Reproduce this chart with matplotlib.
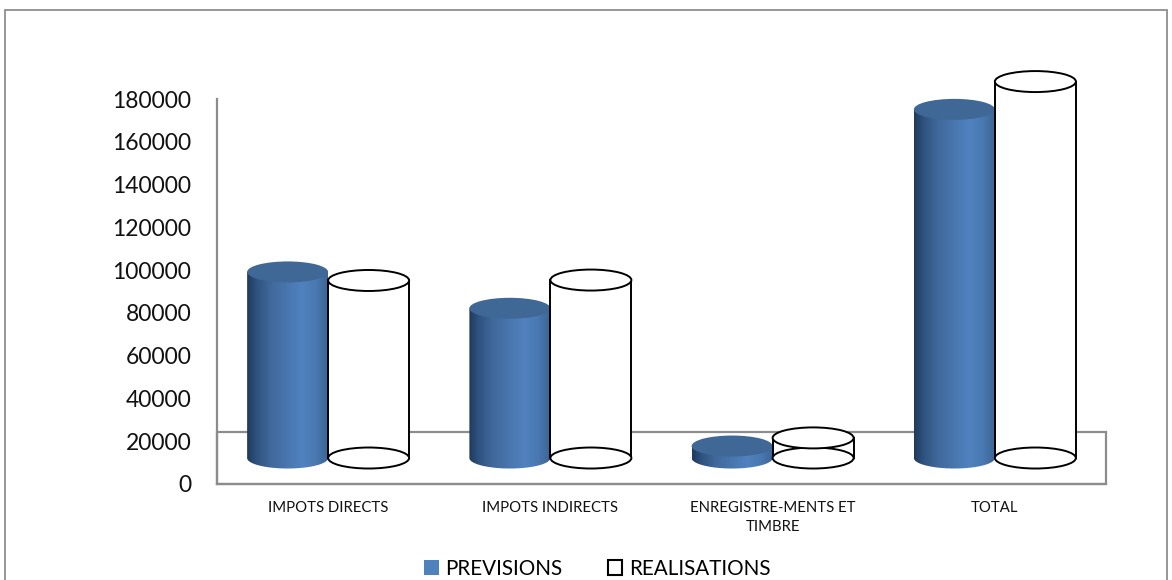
import numpy as np
import matplotlib
matplotlib.use('Agg')
import matplotlib.pyplot as plt
from matplotlib.colors import LinearSegmentedColormap
from matplotlib.patches import Ellipse, Patch, PathPatch, Rectangle
from matplotlib.path import Path

categories = ['IMPOTS DIRECTS', 'IMPOTS INDIRECTS', 'ENREGISTRE-MENTS ET\nTIMBRE', 'TOTAL']
previsions = [87000, 70000, 5600, 163000]
realisations = [83000, 83200, 9400, 176000]
yticks = [0, 20000, 40000, 60000, 80000, 100000, 120000, 140000, 160000, 180000]

W, H = 1172, 580
plt.rcParams['font.family'] = ['Lato', 'DejaVu Sans']

fig = plt.figure(figsize=(W / 100, H / 100), dpi=100)
ax = fig.add_axes([217 / W, 1 - 484 / H, (1106 - 217) / W, (484 - 99) / H])
ax.set_xlim(0, 4)
ax.set_ylim(0, 180000)

# outer chart frame, runs off the bottom of the figure
fig.add_artist(Rectangle((5 / W, -0.05), (1167 - 5) / W, 1 - 10 / H + 0.05, transform=fig.transFigure,
                         fill=False, ec='#8f8f8f', lw=1.3))

# floor of the 3d box
floor_depth = 24300
ax.add_patch(Rectangle((0, 0), 4, floor_depth, fc='white', ec='#8c8c8c', lw=1.6, clip_on=False, zorder=1))

bar_w = 81 / 222.25
base = 12150        # cylinders stand in the middle of the floor
ell_h = 21 / (385 / 180000)

shade = LinearSegmentedColormap.from_list('cyl', [(0, '#203a5c'), (0.12, '#2f5380'), (0.3, '#41699c'),
                                                  (0.68, '#5082bf'), (0.85, '#4a79b1'), (1, '#3c6595')])
grad = np.linspace(0, 1, 256).reshape(1, -1)
t = np.linspace(np.pi, 2 * np.pi, 60)


def solid_cylinder(x0, val):
    top = base + val
    xs = x0 + bar_w / 2 + bar_w / 2 * np.cos(t)
    ys = base + ell_h / 2 * np.sin(t)
    verts = [(x0, top)] + list(zip(xs, ys)) + [(x0 + bar_w, top), (x0, top)]
    body = PathPatch(Path(verts), transform=ax.transData, fc='none', ec='none')
    ax.add_patch(body)
    im = ax.imshow(grad, cmap=shade, extent=[x0, x0 + bar_w, base - ell_h / 2, top], aspect='auto', zorder=3)
    im.set_clip_path(body)
    im.set_clip_on(True)
    ax.add_patch(Ellipse((x0 + bar_w / 2, top), bar_w, ell_h, fc='#3f6896', ec='none', zorder=4, clip_on=False))


def open_cylinder(x0, val):
    top = base + val
    ax.bar(x0, val, bar_w, bottom=base, align='edge', fc='white', ec='none', zorder=2.5, clip_on=False)
    ax.plot([x0, x0], [base, top], color='black', lw=1.4, zorder=5, clip_on=False)
    ax.plot([x0 + bar_w, x0 + bar_w], [base, top], color='black', lw=1.4, zorder=5, clip_on=False)
    for yc in (base, top):
        ax.add_patch(Ellipse((x0 + bar_w / 2, yc), bar_w, ell_h, fc='white', ec='black', lw=1.4, zorder=5, clip_on=False))


for i in range(len(categories)):
    open_cylinder(i + 0.5, realisations[i])
    solid_cylinder(i + 0.5 - bar_w, previsions[i])

ax.set_xlim(0, 4)
ax.set_ylim(0, 180000)

ax.set_xticks(np.arange(4) + 0.5)
ax.set_xticklabels(categories, fontsize=10.7, linespacing=1.5, color='#111111')
ax.set_yticks(yticks)
ax.set_yticklabels([str(v) for v in yticks], fontsize=16.5, color='#111111')
ax.tick_params(axis='x', length=0, pad=12)
ax.tick_params(axis='y', length=0, pad=18.5)

for s in ('top', 'right'):
    ax.spines[s].set_visible(False)
for s in ('left', 'bottom'):
    ax.spines[s].set_color('#8c8c8c')
    ax.spines[s].set_linewidth(1.6)

handles = [Patch(fc='#4f81bd', ec='none', label='PREVISIONS'),
           Patch(fc='white', ec='black', lw=1.5, label='REALISATIONS')]
fig.legend(handles=handles, ncol=2, frameon=False, fontsize=14.9, loc='center',
           bbox_to_anchor=(597 / W, 1 - 569 / H), handlelength=0.72, handleheight=0.72,
           handletextpad=0.3, columnspacing=2.2, borderpad=0)

fig.savefig('out.png', dpi=100)
